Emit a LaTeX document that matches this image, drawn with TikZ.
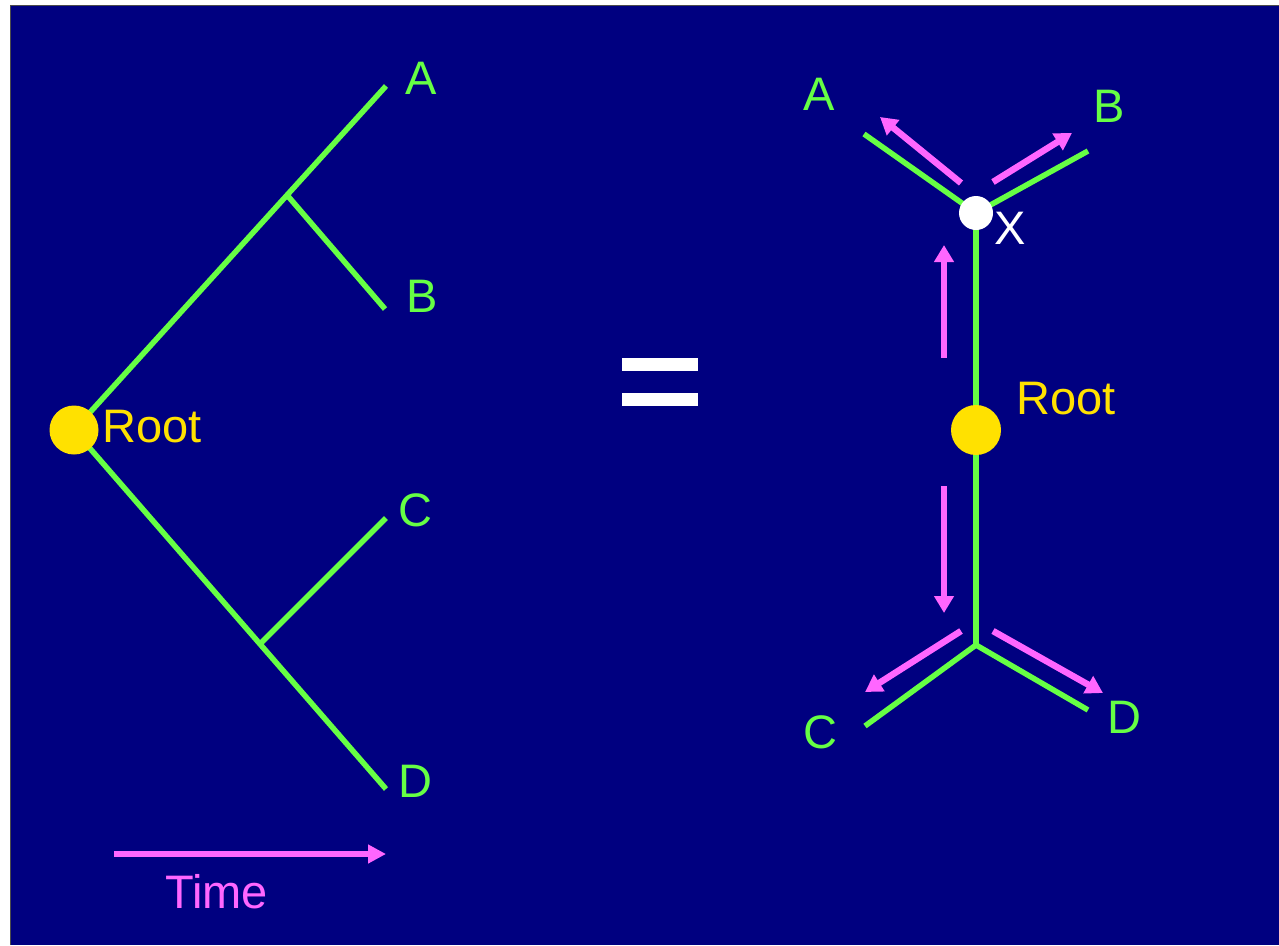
\documentclass[tikz,border=0pt]{standalone}
\usepackage{fontspec}
\setmainfont{Liberation Sans}
\usetikzlibrary{arrows.meta}
\definecolor{navybg}{RGB}{0,0,128}
\definecolor{lgreen}{RGB}{102,255,68}
\definecolor{pinkc}{RGB}{255,102,255}
\definecolor{goldc}{RGB}{255,225,0}
\begin{document}
\begin{tikzpicture}[x=1pt,y=-1pt,
  branch/.style={draw=lgreen,line width=5.5pt},
  parr/.style={draw=pinkc,line width=6.5pt,-{Triangle[length=17pt,width=19pt]}},
  lbl/.style={text=lgreen,font=\fontsize{47}{50}\selectfont,anchor=base,inner sep=0pt},
  rootlbl/.style={text=goldc,font=\fontsize{47}{50}\selectfont,anchor=base west,inner sep=0pt},
  rootdot/.style={circle,fill=goldc,inner sep=0pt,minimum size=50pt},
  xdot/.style={circle,fill=white,inner sep=0pt,minimum size=34pt},
  eqbar/.style={fill=white}]
% background
\useasboundingbox (0,0) rectangle (1279,945);
\fill[white] (0,0) rectangle (1279,945);
\fill[navybg] (10,5) rectangle (1279,945);
\draw[black!70,line width=1pt] (10,945) -- (10,5) -- (1279,5);

% ---------- left tree ----------
\coordinate (rL) at (74,430);
\coordinate (aL) at (386,86);
\coordinate (abL) at (287,195);
\coordinate (bL) at (385,309);
\coordinate (dL) at (386,789);
\coordinate (cdL) at (260,644);
\coordinate (cL) at (386,518);
\draw[branch] (rL) -- (aL);
\draw[branch] (abL) -- (bL);
\draw[branch] (rL) -- (dL);
\draw[branch] (cdL) -- (cL);
\node[rootdot,minimum size=49pt] (rootL) at (rL) {};
\node[rootlbl] (rootLt) at (102,442) {Root};
\node[lbl] (labAL) at (421,94) {A};
\node[lbl] (labBL) at (422,312) {B};
\node[lbl] (labCL) at (415,526) {C};
\node[lbl] (labDL) at (415,797) {D};

% time arrow
\coordinate (t0) at (114,854);
\coordinate (t1) at (386,854);
\draw[draw=pinkc,line width=6pt,-{Triangle[length=18pt,width=18pt]}] (t0) -- (t1);
\node[lbl,text=pinkc] (timeL) at (216.5,908) {Time};

% equals sign
\fill[eqbar] (622,358) rectangle (698,371);
\fill[eqbar] (622,393) rectangle (698,406);

% ---------- right tree ----------
\coordinate (xR) at (976,213);
\coordinate (rR) at (976,430);
\coordinate (jR) at (976,645);
\coordinate (aR) at (864,134);
\coordinate (bR) at (1088,151);
\coordinate (cR) at (865,726);
\coordinate (dR) at (1088,710);
\draw[branch] (xR) -- (aR);
\draw[branch] (xR) -- (bR);
\draw[branch] (xR) -- (jR);
\draw[branch] (jR) -- (cR);
\draw[branch] (jR) -- (dR);

% pink arrows
\coordinate (pa0) at (961,183); \coordinate (pa1) at (880,117);
\coordinate (pb0) at (993,182); \coordinate (pb1) at (1072,133);
\coordinate (pu0) at (944,358); \coordinate (pu1) at (944,245);
\coordinate (pd0) at (944,486); \coordinate (pd1) at (944,613);
\coordinate (pc0) at (961,631); \coordinate (pc1) at (865,692);
\coordinate (pe0) at (993,631); \coordinate (pe1) at (1103,693);
\draw[parr] (pa0) -- (pa1);
\draw[parr] (pb0) -- (pb1);
\draw[parr] (pu0) -- (pu1);
\draw[parr] (pd0) -- (pd1);
\draw[parr] (pc0) -- (pc1);
\draw[parr] (pe0) -- (pe1);

\node[xdot] (xnode) at (xR) {};
\node[rootdot] (rootR) at (rR) {};
\node[rootlbl] (rootRt) at (1016,414) {Root};
\node[lbl,text=white] (labX) at (1010,244) {X};
\node[lbl] (labAR) at (819,110) {A};
\node[lbl] (labBR) at (1109,122) {B};
\node[lbl] (labCR) at (820,748) {C};
\node[lbl] (labDR) at (1124,733) {D};
\end{tikzpicture}
\end{document}
